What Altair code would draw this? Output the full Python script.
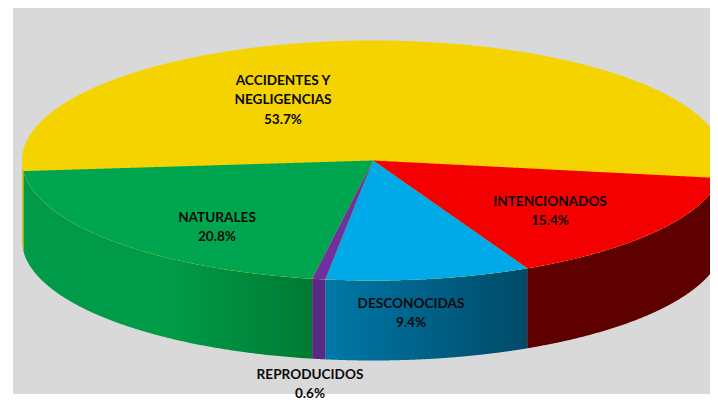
import numpy as np
import pandas as pd
import altair as alt

# ---- chart values ----
categories = ["INTENCIONADOS", "DESCONOCIDAS", "REPRODUCIDOS", "NATURALES", "ACCIDENTES Y NEGLIGENCIAS"]
shares = [15.4, 9.4, 0.6, 20.8, 53.7]
label_lines = [["INTENCIONADOS", "15.4%"], ["DESCONOCIDAS", "9.4%"], ["REPRODUCIDOS", "0.6%"],
               ["NATURALES", "20.8%"], ["ACCIDENTES Y", "NEGLIGENCIAS", "53.7%"]]

# ---- layout and style ----
top_colors = ["#F50000", "#00A9E8", "#7030A0", "#00A64F", "#F4D300"]
side_stops = [
    ["#5E0000", "#5E0000"],
    ["#0078A8", "#004A68"],
    ["#5A2A82", "#5A2A82"],
    ["#009A48", "#009C48", "#007A34"],
    ["#E0C000", "#E0C000"],
]
label_centres = [(550, 202), (411, 304), (310, 375), (217, 218), (283, 81)]
CX, CY, RX, RY, DEPTH = 373.0, 160.5, 351.0, 120.0, 80.0
START_DEG = 8.45
LINE_STEP = 19.3

X = alt.X("x:Q", axis=None, scale=alt.Scale(domain=[8, 710], range=[0, 702]))
Y = alt.Y("y:Q", axis=None, scale=alt.Scale(domain=[8, 400], range=[0, 392]))
Y2 = alt.Y2("y2:Q")


def arc_points(a0, a1, n=160):
    t = np.radians(np.linspace(a0, a1, n))
    return np.column_stack([CX + RX * np.cos(t), CY + RY * np.sin(t)])


def wedge_frame(a0, a1):
    """Vertical-span description of a convex ellipse wedge."""
    poly = np.vstack([[CX, CY], arc_points(a0, a1)])
    closed = np.vstack([poly, poly[0]])
    xs = np.unique(np.concatenate([poly[:, 0], np.linspace(poly[:, 0].min(), poly[:, 0].max(), 300)]))
    rows = []
    for x in xs:
        hits = []
        for (xa, ya), (xb, yb) in zip(closed[:-1], closed[1:]):
            lo, hi = min(xa, xb), max(xa, xb)
            if lo - 1e-9 <= x <= hi + 1e-9:
                if abs(xb - xa) < 1e-9:
                    hits += [ya, yb]
                else:
                    hits.append(ya + (yb - ya) * (x - xa) / (xb - xa))
        if hits:
            rows.append({"x": x, "y": min(hits), "y2": max(hits)})
    return pd.DataFrame(rows)


def side_frame(a0, a1):
    pts = arc_points(a0, a1)
    return pd.DataFrame({"x": pts[:, 0], "y": pts[:, 1], "y2": pts[:, 1] + DEPTH}).sort_values("x")


def gradient(colors):
    stops = [alt.GradientStop(offset=i / (len(colors) - 1), color=c) for i, c in enumerate(colors)]
    return alt.Gradient(gradient="linear", stops=stops, x1=0, x2=1, y1=0, y2=0)


def area(df, color):
    return alt.Chart(df).mark_area(color=color, clip=True, interpolate="linear", line=False).encode(x=X, y=Y, y2=Y2)


layers = [
    alt.Chart(pd.DataFrame({"x": [13], "x2": [718], "y": [8], "y2": [394]}))
    .mark_rect(color="#D9D9D9", clip=True)
    .encode(x=X, x2="x2:Q", y=Y, y2=Y2)
]

# boundaries of every slice, in degrees round the ellipse
angles = [START_DEG]
for s in shares:
    angles.append(angles[-1] + s * 3.6 * 100 / sum(shares))

# rim
for i in range(len(shares)):
    a0, a1 = angles[i], angles[i + 1]
    if i == len(shares) - 1:
        layers.append(area(side_frame(a0, 180), gradient(side_stops[i])))
        layers.append(area(side_frame(0, START_DEG), "#5E0000"))
    else:
        layers.append(area(side_frame(a0, a1), gradient(side_stops[i])))

# top face: whole ellipse in the largest slice's colour, other wedges on top
layers.append(area(wedge_frame(0, 180).assign(y=lambda d: 2 * CY - d["y2"]), top_colors[4]))
for i in range(4):
    layers.append(area(wedge_frame(angles[i], angles[i + 1]), top_colors[i]))

# labels
rows = []
for lines, (cx, cy) in zip(label_lines, label_centres):
    for j, line in enumerate(lines):
        rows.append({"x": cx, "y": cy + j * LINE_STEP, "t": line})
layers.append(
    alt.Chart(pd.DataFrame(rows))
    .mark_text(font="Lato", fontSize=13.6, fontWeight="bold", color="#0A0A0A", align="center", baseline="middle")
    .encode(x=X, y=Y, text="t:N")
)

chart = (
    alt.layer(*layers)
    .properties(width=702, height=392, padding=0, background="white",
                autosize=alt.AutoSizeParams(type="none"))
    .configure_view(stroke=None)
)
chart.save("out.html", embed_options={"renderer": "svg", "actions": False})
